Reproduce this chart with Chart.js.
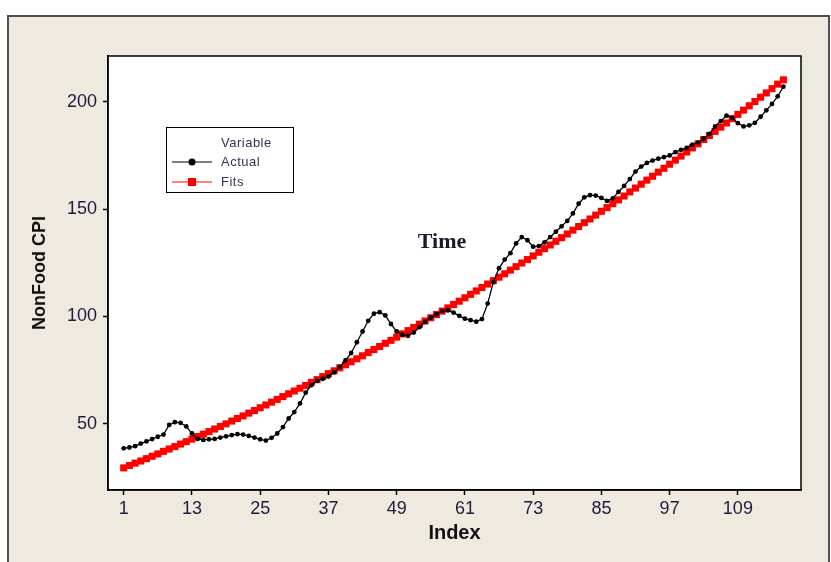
<!DOCTYPE html>
<html>
<head>
<meta charset="utf-8">
<script src="https://cdn.jsdelivr.net/npm/chart.js@4/dist/chart.umd.min.js"></script>
<style>
  html, body { margin: 0; padding: 0; background: #ffffff; }
  #wrap { width: 831px; height: 562px; }
</style>
</head>
<body>
<div id="wrap"><canvas id="chart" width="831" height="562"></canvas></div>
<script>
// Actual NonFood CPI, index 1..117
const actual = [
  38.6, 39.0, 39.6, 40.8, 41.8, 42.9, 44.0, 45.0, 49.5, 50.8,
  50.5, 48.8, 45.5, 43.0, 42.5, 42.8, 43.0, 43.6, 44.2, 44.8,
  45.2, 45.0, 44.4, 43.6, 42.8, 42.2, 43.5, 45.5, 48.5, 52.5,
  55.5, 59.5, 64.5, 68.0, 70.0, 71.0, 72.0, 74.0, 76.5, 79.5,
  83.0, 88.0, 93.0, 98.0, 101.3, 102.0, 100.5, 96.5, 93.0, 91.5,
  91.0, 92.5, 95.0, 97.5, 99.5, 101.0, 102.5, 102.8, 101.8, 100.3,
  99.0, 98.3, 97.6, 98.8, 106.0, 116.0, 122.5, 126.5, 129.5, 134.0,
  137.0, 135.5, 132.5, 132.8, 134.5, 137.0, 139.5, 142.0, 144.5, 148.0,
  152.5, 155.5, 156.5, 156.3, 155.2, 153.8, 155.0, 158.0, 160.8, 164.0,
  167.5, 169.8, 171.5, 172.6, 173.5, 174.2, 175.0, 176.5, 177.6, 178.5,
  180.0, 181.0, 182.8, 185.0, 188.5, 191.0, 193.5, 192.5, 190.0, 188.5,
  189.0, 190.2, 193.0, 196.0, 199.0, 202.5, 207.0
];

// Fitted trend values, index 1..117
const fits = [
  29.5, 30.6, 31.7, 32.7, 33.8, 34.9, 36.0, 37.2, 38.3, 39.4,
  40.6, 41.7, 42.9, 44.1, 45.2, 46.4, 47.6, 48.8, 50.0, 51.3,
  52.5, 53.7, 55.0, 56.2, 57.5, 58.8, 60.1, 61.4, 62.7, 64.0,
  65.3, 66.6, 67.9, 69.3, 70.6, 72.0, 73.4, 74.7, 76.1, 77.5,
  78.9, 80.3, 81.7, 83.2, 84.6, 86.0, 87.5, 88.9, 90.4, 91.9,
  93.4, 94.9, 96.4, 97.9, 99.4, 100.9, 102.5, 104.0, 105.6, 107.1,
  108.7, 110.3, 111.9, 113.5, 115.1, 116.7, 118.3, 119.9, 121.6, 123.2,
  124.9, 126.5, 128.2, 129.9, 131.6, 133.3, 135.0, 136.7, 138.4, 140.2,
  141.9, 143.7, 145.4, 147.2, 149.0, 150.7, 152.5, 154.3, 156.1, 158.0,
  159.8, 161.6, 163.5, 165.3, 167.2, 169.0, 170.9, 172.8, 174.7, 176.6,
  178.5, 180.4, 182.4, 184.3, 186.2, 188.2, 190.1, 192.1, 194.1, 196.1,
  198.1, 200.1, 202.1, 204.1, 206.1, 208.2, 210.2
];

const xTicks = [1, 13, 25, 37, 49, 61, 73, 85, 97, 109];
const yTicks = [50, 100, 150, 200];
const seriesNames = ['Actual', 'Fits'];

const toPoints = arr => arr.map((v, i) => ({ x: i + 1, y: v }));

const tickFont = { family: 'Liberation Sans', size: 18 };
const tickColor = '#1c1c3c';

// frame, white plot box, legend box and the "Time" note
const decor = {
  id: 'decor',
  beforeDraw(chart) {
    const { ctx, chartArea: a } = chart;
    ctx.save();
    ctx.fillStyle = '#ffffff';
    ctx.fillRect(0, 0, chart.width, chart.height);
    ctx.fillStyle = '#eeeae0';
    ctx.fillRect(8, 16, 821, 560);
    ctx.strokeStyle = '#505050';
    ctx.lineWidth = 2;
    ctx.strokeRect(8, 16, 821, 560);
    ctx.fillStyle = '#ffffff';
    ctx.fillRect(a.left, a.top, a.right - a.left, a.bottom - a.top);
    ctx.restore();
  },
  afterDraw(chart) {
    const { ctx, chartArea: a } = chart;
    ctx.save();
    ctx.strokeStyle = '#000000';
    ctx.lineWidth = 1.5;
    ctx.strokeRect(a.left, a.top, a.right - a.left, a.bottom - a.top);

    // legend
    ctx.fillStyle = '#ffffff';
    ctx.fillRect(166, 127, 127, 65);
    ctx.lineWidth = 1;
    ctx.strokeStyle = '#000000';
    ctx.strokeRect(166.5, 127.5, 127, 65);
    ctx.font = '13px "Liberation Sans"';
    ctx.letterSpacing = '0.5px';
    ctx.fillStyle = '#333355';
    ctx.textBaseline = 'middle';
    ctx.textAlign = 'left';
    ctx.fillText('Variable', 221, 143);
    ctx.fillText(seriesNames[0], 221, 162);
    ctx.fillText(seriesNames[1], 221, 182);

    ctx.strokeStyle = '#000000';
    ctx.beginPath();
    ctx.moveTo(172, 162); ctx.lineTo(212, 162);
    ctx.stroke();
    ctx.fillStyle = '#000000';
    ctx.beginPath();
    ctx.arc(192, 162, 3.5, 0, Math.PI * 2);
    ctx.fill();

    ctx.strokeStyle = '#ff0000';
    ctx.beginPath();
    ctx.moveTo(172, 182); ctx.lineTo(212, 182);
    ctx.stroke();
    ctx.fillStyle = '#ff0000';
    ctx.fillRect(188, 178, 8, 8);

    // note in the plot
    ctx.letterSpacing = '0px';
    ctx.font = 'bold 22px "Liberation Serif"';
    ctx.fillStyle = '#1a1a2a';
    ctx.textAlign = 'center';
    ctx.fillText('Time', 442, 242);
    ctx.restore();
  }
};

new Chart(document.getElementById('chart'), {
  type: 'line',
  data: {
    datasets: [
      {
        label: seriesNames[0],
        data: toPoints(actual),
        borderColor: '#000000',
        backgroundColor: '#000000',
        borderWidth: 1.3,
        pointStyle: 'circle',
        pointRadius: 2.4,
        pointBorderWidth: 0,
        tension: 0
      },
      {
        label: seriesNames[1],
        data: toPoints(fits),
        borderColor: '#ff0000',
        backgroundColor: '#ff0000',
        borderWidth: 1,
        pointStyle: 'rect',
        pointRadius: 5,
        pointBorderWidth: 0,
        tension: 0
      }
    ]
  },
  options: {
    responsive: false,
    animation: false,
    devicePixelRatio: 1,
    layout: { padding: { left: 0, top: 56, right: 30, bottom: 0 } },
    plugins: {
      legend: { display: false },
      tooltip: { enabled: false }
    },
    scales: {
      x: {
        type: 'linear',
        min: -1.76,
        max: 120.1,
        afterBuildTicks: s => { s.ticks = xTicks.map(v => ({ value: v })); },
        afterFit: s => { s.height = 72; },
        grid: { drawOnChartArea: false, tickLength: 5, tickColor: '#000000', tickWidth: 1.5 },
        border: { display: true, color: '#000000', width: 1.5 },
        ticks: { font: tickFont, color: tickColor, padding: 3, maxRotation: 0 },
        title: {
          display: true,
          text: 'Index',
          font: { family: 'Liberation Sans', size: 20, weight: 'bold' },
          color: '#111111',
          padding: { top: 0, bottom: 17 }
        }
      },
      y: {
        type: 'linear',
        min: 19.2,
        max: 221.3,
        afterBuildTicks: s => { s.ticks = yTicks.map(v => ({ value: v })); },
        afterFit: s => { s.width = 108; },
        grid: { drawOnChartArea: false, tickLength: 5, tickColor: '#000000', tickWidth: 1.5 },
        border: { display: true, color: '#000000', width: 1.5 },
        ticks: { font: tickFont, color: tickColor, padding: 6 },
        title: {
          display: true,
          text: 'NonFood CPI',
          font: { family: 'Liberation Sans', size: 18, weight: 'bold' },
          color: '#111111',
          padding: { top: 29, bottom: 0 }
        }
      }
    }
  },
  plugins: [decor]
});
</script>
</body>
</html>
